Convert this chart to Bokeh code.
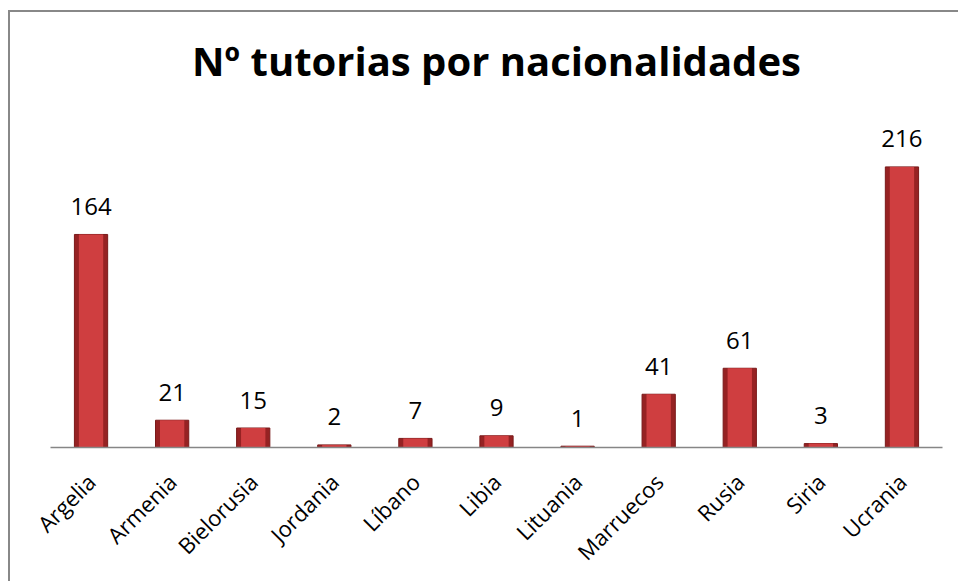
from bokeh.plotting import figure
from bokeh.models import ColumnDataSource, Range1d, InlineStyleSheet
from bokeh.core.properties import value
from bokeh.embed import file_html
from bokeh.resources import INLINE
import math

countries = ["Argelia", "Armenia", "Bielorusia", "Jordania", "Líbano", "Libia",
             "Lituania", "Marruecos", "Rusia", "Siria", "Ucrania"]
counts = [164, 21, 15, 2, 7, 9, 1, 41, 61, 3, 216]
title_text = "Nº tutorias por nacionalidades"

src = ColumnDataSource(dict(x=countries, top=counts, lab=[str(c) for c in counts]))

p = figure(x_range=countries, y_range=Range1d(0, 262.5), width=950, height=571,
           output_backend="svg", toolbar_location=None,
           min_border_left=40, min_border_right=18, min_border_top=90, min_border_bottom=136)
p.stylesheets = [InlineStyleSheet(css=":host { box-sizing: border-box; margin-left: 8px; margin-top: 10px; border-left: 2px solid #888888; border-top: 2px solid #888888; }")]

p.title.text = title_text
p.title.align = "center"
p.title.text_font = "Open Sans"
p.title.text_font_size = "40px"
p.title.text_font_style = "bold"
p.title.text_color = "#000000"
p.title.standoff = 37

p.outline_line_color = None
p.background_fill_color = "white"
p.border_fill_color = "white"
p.grid.grid_line_color = None
p.yaxis.visible = False

p.xaxis.axis_line_color = "#868686"
p.xaxis.axis_line_width = 1.5
p.xaxis.major_tick_line_color = None
p.xaxis.minor_tick_line_color = None
p.xaxis.major_label_orientation = math.pi / 4
p.xaxis.major_label_text_font = "Open Sans"
p.xaxis.major_label_text_font_size = "22px"
p.xaxis.major_label_text_color = "#000000"
p.xaxis.major_label_standoff = 24

p.vbar(x="x", top="top", width=0.41, source=src, fill_color="#962223", line_color="#7a1a1a", line_width=1)
p.vbar(x="x", top="top", width=0.30, source=src, fill_color="#cf3e40", line_color=None)

p.text(x="x", y="top", text="lab", source=src, text_align="center", text_baseline="alphabetic",
       y_offset=-28, text_font=value("Open Sans"), text_font_size="24px", text_color="#000000")

open("out.html", "w").write(file_html(p, INLINE))
